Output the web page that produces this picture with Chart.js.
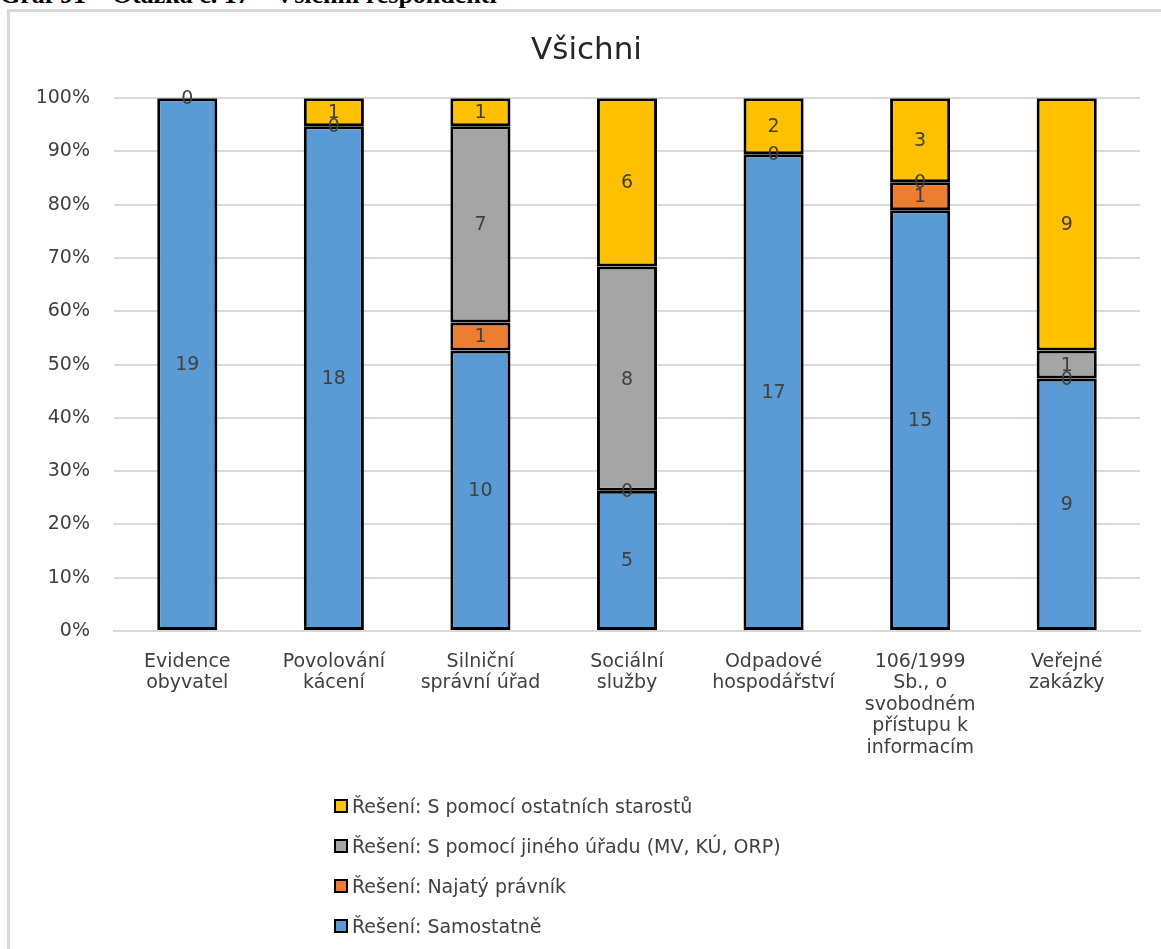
<!DOCTYPE html>
<html>
<head>
<meta charset="utf-8">
<script src="https://cdn.jsdelivr.net/npm/chart.js@4.4.1/dist/chart.umd.min.js"></script>
<style>
  html, body { margin: 0; padding: 0; background: #fff; overflow: hidden; width: 1161px; height: 949px; }
  #heading {
    position: absolute; left: 0; top: -18px;
    font: bold 26px "Liberation Serif", serif; line-height: 26px; color: #000; white-space: nowrap;
  }
  #frame {
    position: absolute; left: 7px; top: 9px; width: 1200px; height: 1000px;
    border: 3px solid #d9d9d9; box-sizing: border-box; background: #fff;
  }
  #wrap { position: absolute; left: 15px; top: 10px; width: 1143px; height: 780px; }
  #legend { position: absolute; left: 334px; top: 786px; }
  .item { height: 40px; display: flex; align-items: center; font: 19px "DejaVu Sans", sans-serif; color: #404040; }
  .box { width: 10px; height: 10px; border: 2px solid #000; margin-right: 4px; }
</style>
</head>
<body>
<div id="heading">Graf 91 – Otázka č. 17 – Všichni respondenti</div>
<div id="frame"></div>
<div id="wrap"><canvas id="chart"></canvas></div>
<div id="legend"></div>
<script>
const categories = [
  ["Evidence", "obyvatel"],
  ["Povolování", "kácení"],
  ["Silniční", "správní úřad"],
  ["Sociální", "služby"],
  ["Odpadové", "hospodářství"],
  ["106/1999", "Sb., o", "svobodném", "přístupu k", "informacím"],
  ["Veřejné", "zakázky"]
];

const seriesNames = [
  "Řešení: Samostatně",
  "Řešení: Najatý právník",
  "Řešení: S pomocí jiného úřadu (MV, KÚ, ORP)",
  "Řešení: S pomocí ostatních starostů"
];
const seriesColors = ["#5b9bd5", "#ed7d31", "#a5a5a5", "#ffc000"];

// counts per category (null = not shown)
const samostatne = [19, 18, 10, 5, 17, 15, 9];
const najatyPravnik = [null, 0, 1, 0, 0, 1, 0];
const jinyUrad = [null, null, 7, 8, null, 0, 1];
const ostatniStarostove = [0, 1, 1, 6, 2, 3, 9];

const yTicks = [0, 10, 20, 30, 40, 50, 60, 70, 80, 90, 100];

const allSeries = [samostatne, najatyPravnik, jinyUrad, ostatniStarostove];
const totals = categories.map(function (c, i) {
  return allSeries.reduce(function (s, arr) { return s + (arr[i] || 0); }, 0);
});

function toPercent(arr) {
  return arr.map(function (v, i) { return v === null ? null : v / totals[i] * 100; });
}

const valueLabels = {
  id: "valueLabels",
  afterDatasetsDraw(chart) {
    const ctx = chart.ctx;
    ctx.save();
    ctx.font = "19px 'DejaVu Sans', sans-serif";
    ctx.fillStyle = "#404040";
    ctx.textAlign = "center";
    ctx.textBaseline = "middle";
    chart.data.datasets.forEach(function (ds, di) {
      const meta = chart.getDatasetMeta(di);
      meta.data.forEach(function (el, i) {
        const v = ds.counts[i];
        if (v === null) return;
        ctx.fillText(String(v), el.x, (el.y + el.base) / 2 + 1);
      });
    });
    ctx.restore();
  }
};

new Chart(document.getElementById("chart"), {
  type: "bar",
  data: {
    labels: categories,
    datasets: allSeries.map(function (arr, i) {
      return {
        label: seriesNames[i],
        data: toPercent(arr),
        counts: arr,
        backgroundColor: seriesColors[i],
        borderColor: "#000",
        borderWidth: 3,
        borderSkipped: false,
        barPercentage: 0.41,
        categoryPercentage: 1
      };
    })
  },
  options: {
    responsive: true,
    maintainAspectRatio: false,
    animation: false,
    layout: { padding: { left: 18, right: 18 } },
    plugins: {
      legend: { display: false },
      tooltip: { enabled: false },
      title: {
        display: true,
        text: "Všichni",
        color: "#262626",
        font: { family: "'DejaVu Sans', sans-serif", size: 31, weight: "normal" },
        padding: { top: 22, bottom: 29 }
      }
    },
    scales: {
      x: {
        stacked: true,
        grid: { display: false },
        border: { display: true, color: "#d9d9d9", width: 2 },
        ticks: {
          color: "#404040",
          font: { family: "'DejaVu Sans', sans-serif", size: 19, lineHeight: 1.13 },
          padding: 12,
          maxRotation: 0,
          autoSkip: false
        },
        afterFit(scale) { scale.height = 159; }
      },
      y: {
        stacked: true,
        min: 0,
        max: 100,
        afterBuildTicks(scale) { scale.ticks = yTicks.map(function (v) { return { value: v }; }); },
        grid: { color: "#d9d9d9", lineWidth: 2, drawTicks: false },
        border: { display: false },
        ticks: {
          color: "#404040",
          font: { family: "'DejaVu Sans', sans-serif", size: 19 },
          padding: 24,
          callback: function (v) { return v + "%"; }
        },
        afterFit(scale) { scale.width = 81; }
      }
    }
  },
  plugins: [valueLabels]
});

const legend = document.getElementById("legend");
for (let i = seriesNames.length - 1; i >= 0; i--) {
  const row = document.createElement("div");
  row.className = "item";
  const box = document.createElement("span");
  box.className = "box";
  box.style.background = seriesColors[i];
  const txt = document.createElement("span");
  txt.textContent = seriesNames[i];
  row.appendChild(box);
  row.appendChild(txt);
  legend.appendChild(row);
}
</script>
</body>
</html>
